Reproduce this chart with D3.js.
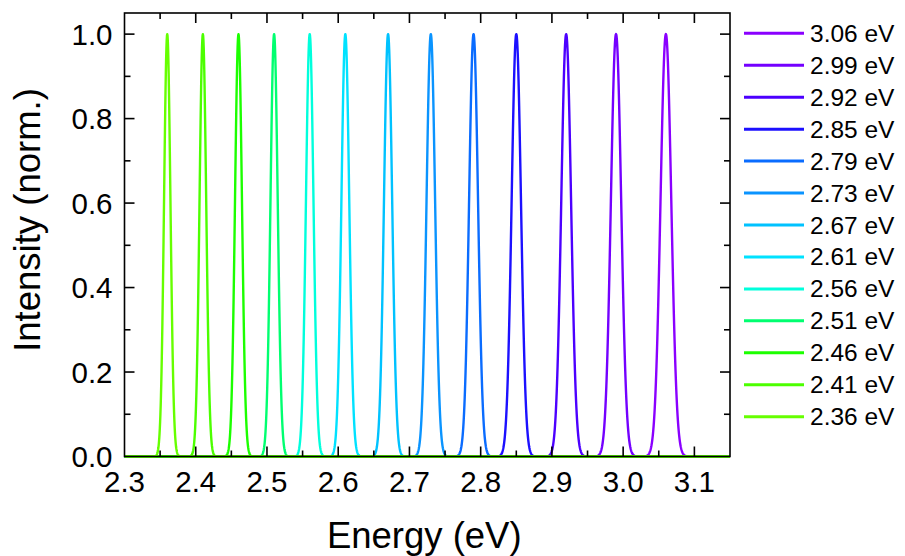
<!DOCTYPE html>
<html>
<head>
<meta charset="utf-8">
<script src="https://cdn.jsdelivr.net/npm/d3@7"></script>
<style>
  html, body { margin: 0; padding: 0; background: #ffffff; }
  svg { display: block; font-family: "Liberation Sans", Arial, sans-serif; }
</style>
</head>
<body>
<svg id="chart" width="905" height="556"></svg>
<script>
// Emission peak energies (eV), one normalised spectrum per source
const peakEnergies = [3.06, 2.99, 2.92, 2.85, 2.79, 2.73, 2.67, 2.61, 2.56, 2.51, 2.46, 2.41, 2.36];
const peakLabels = ["3.06 eV", "2.99 eV", "2.92 eV", "2.85 eV", "2.79 eV", "2.73 eV", "2.67 eV",
                    "2.61 eV", "2.56 eV", "2.51 eV", "2.46 eV", "2.41 eV", "2.36 eV"];
const peakColors = ["#8a00ff", "#7400ff", "#4c00ff", "#1c10ff", "#0a6cff", "#0a94ff", "#00c2ff",
                    "#00e2ff", "#00ffdc", "#00ff70", "#1cff00", "#4cff00", "#66ff00"];
// Spectral line width (Gaussian sigma, nm) shared by all sources
const lineSigmaNm = 1.0;

const xTickValues = [2.3, 2.4, 2.5, 2.6, 2.7, 2.8, 2.9, 3.0, 3.1];
const xTickLabels = ["2.3", "2.4", "2.5", "2.6", "2.7", "2.8", "2.9", "3.0", "3.1"];
const yTickValues = [0.0, 0.2, 0.4, 0.6, 0.8, 1.0];
const yTickLabels = ["0.0", "0.2", "0.4", "0.6", "0.8", "1.0"];
const xDomain = [2.3, 3.15];
const yDomain = [0, 1.05];

const HC = 1239.84; // eV·nm

const svg = d3.select("#chart");
const plot = { left: 124.5, right: 730, top: 13, bottom: 456.5 };

const x = d3.scaleLinear().domain(xDomain).range([plot.left, plot.right]);
const y = d3.scaleLinear().domain(yDomain).range([plot.bottom, plot.top]);

// Spectrum profile: Gaussian in wavelength, sampled on an energy grid
const energyGrid = d3.range(xDomain[0], xDomain[1] + 1e-9, 0.0004);
function spectrum(e0) {
  const lam0 = HC / e0;
  return energyGrid.map(e => {
    const lam = HC / e;
    return [e, Math.exp(-((lam - lam0) ** 2) / (2 * lineSigmaNm * lineSigmaNm))];
  });
}

svg.append("defs").append("clipPath").attr("id", "clip")
  .append("rect")
  .attr("x", plot.left).attr("y", plot.top - 2)
  .attr("width", plot.right - plot.left).attr("height", plot.bottom - plot.top + 4);

const line = d3.line().x(d => x(d[0])).y(d => y(d[1]));

const curves = svg.append("g").attr("clip-path", "url(#clip)");
peakEnergies.forEach((e0, i) => {
  curves.append("path")
    .datum(spectrum(e0))
    .attr("d", line)
    .attr("fill", "none")
    .attr("stroke", peakColors[i])
    .attr("stroke-width", 2.4)
    .attr("stroke-linejoin", "round");
});

// Frame
svg.append("rect")
  .attr("x", plot.left).attr("y", plot.top)
  .attr("width", plot.right - plot.left).attr("height", plot.bottom - plot.top)
  .attr("fill", "none").attr("stroke", "#000").attr("stroke-width", 1.6);

const majorLen = 10, minorLen = 6;
const xMinor = d3.range(2.35, 3.149, 0.1);
const yMinor = [0.1, 0.3, 0.5, 0.7, 0.9];

const ticks = svg.append("g").attr("stroke", "#000").attr("stroke-width", 1.6);
function xTicks(vals, len) {
  vals.forEach(v => {
    ticks.append("line").attr("x1", x(v)).attr("x2", x(v))
      .attr("y1", plot.bottom).attr("y2", plot.bottom - len);
    ticks.append("line").attr("x1", x(v)).attr("x2", x(v))
      .attr("y1", plot.top).attr("y2", plot.top + len);
  });
}
function yTicks(vals, len) {
  vals.forEach(v => {
    ticks.append("line").attr("y1", y(v)).attr("y2", y(v))
      .attr("x1", plot.left).attr("x2", plot.left + len);
    ticks.append("line").attr("y1", y(v)).attr("y2", y(v))
      .attr("x1", plot.right).attr("x2", plot.right - len);
  });
}
xTicks(xTickValues.filter(v => v > xDomain[0] + 1e-6), majorLen);
xTicks(xMinor, minorLen);
yTicks(yTickValues.filter(v => v > 1e-6), majorLen);
yTicks(yMinor, minorLen);

// Tick labels
const labelFont = 29.5;
svg.append("g").selectAll("text").data(xTickValues).join("text")
  .attr("x", d => x(d)).attr("y", plot.bottom + 35)
  .attr("text-anchor", "middle").attr("font-size", labelFont).attr("fill", "#000")
  .text((d, i) => xTickLabels[i]);
svg.append("g").selectAll("text").data(yTickValues).join("text")
  .attr("x", plot.left - 12).attr("y", d => y(d) + 10.5)
  .attr("text-anchor", "end").attr("font-size", labelFont).attr("fill", "#000")
  .text((d, i) => yTickLabels[i]);

// Axis titles
svg.append("text")
  .attr("x", (plot.left + plot.right) / 2 - 3).attr("y", 548)
  .attr("text-anchor", "middle").attr("font-size", 36.5).attr("fill", "#000")
  .text("Energy (eV)");
svg.append("text")
  .attr("transform", `translate(40, 220) rotate(-90)`)
  .attr("text-anchor", "middle").attr("font-size", 36.5).attr("fill", "#000")
  .text("Intensity (norm.)");

// Legend
const legend = svg.append("g");
const legendTop = 33.3, legendStep = 31.95;
peakLabels.forEach((lab, i) => {
  const ly = legendTop + i * legendStep;
  legend.append("line")
    .attr("x1", 744).attr("x2", 804).attr("y1", ly).attr("y2", ly)
    .attr("stroke", peakColors[i]).attr("stroke-width", 3);
  legend.append("text")
    .attr("x", 810).attr("y", ly + 8.5)
    .attr("font-size", 24.5).attr("fill", "#000")
    .text(lab);
});
</script>
</body>
</html>
